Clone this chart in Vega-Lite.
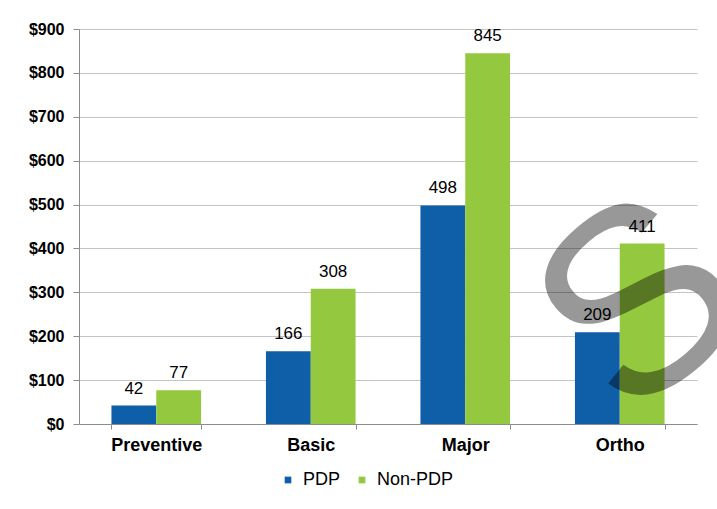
{
  "$schema": "https://vega.github.io/schema/vega-lite/v6.json",
  "width": 618,
  "height": 395,
  "autosize": {"type": "none"},
  "padding": {"left": 79, "top": 29, "right": 20, "bottom": 85},
  "background": "white",
  "config": {
    "view": {"stroke": null},
    "font": "Liberation Sans"
  },
  "datasets": {
    "costs": [
      {"plan": "Preventive", "network": "PDP", "cost": 42},
      {"plan": "Preventive", "network": "Non-PDP", "cost": 77},
      {"plan": "Basic", "network": "PDP", "cost": 166},
      {"plan": "Basic", "network": "Non-PDP", "cost": 308},
      {"plan": "Major", "network": "PDP", "cost": 498},
      {"plan": "Major", "network": "Non-PDP", "cost": 845},
      {"plan": "Ortho", "network": "PDP", "cost": 209},
      {"plan": "Ortho", "network": "Non-PDP", "cost": 411}
    ],
    "stamp": [{"letter": "S"}]
  },
  "layer": [
    {
      "data": {"name": "costs"},
      "mark": {"type": "bar"},
      "encoding": {
        "x": {
          "field": "plan",
          "type": "nominal",
          "sort": ["Preventive", "Basic", "Major", "Ortho"],
          "scale": {"paddingInner": 0.42, "paddingOuter": 0.21},
          "axis": {
            "title": null,
            "labelAngle": 0,
            "labelFontSize": 18,
            "labelFontWeight": "bold",
            "labelColor": "#000000",
            "labelPadding": 7,
            "tickBand": "extent",
            "tickSize": 5,
            "tickColor": "#8c8c8c",
            "domainColor": "#8c8c8c",
            "grid": false
          }
        },
        "xOffset": {
          "field": "network",
          "type": "nominal",
          "sort": ["PDP", "Non-PDP"],
          "scale": {"paddingInner": 0, "paddingOuter": 0}
        },
        "y": {
          "field": "cost",
          "type": "quantitative",
          "scale": {"domain": [0, 900], "nice": false},
          "axis": {
            "title": null,
            "values": [0, 100, 200, 300, 400, 500, 600, 700, 800, 900],
            "format": "$,.0f",
            "labelFontSize": 16,
            "labelFontWeight": "bold",
            "labelColor": "#000000",
            "labelPadding": 9,
            "tickSize": 6,
            "tickColor": "#8c8c8c",
            "domainColor": "#8c8c8c",
            "gridColor": "#c4c4c4"
          }
        },
        "color": {
          "field": "network",
          "type": "nominal",
          "sort": ["PDP", "Non-PDP"],
          "scale": {"domain": ["PDP", "Non-PDP"], "range": ["#0f5ea8", "#94c83f"]},
          "legend": {
            "title": null,
            "orient": "none",
            "direction": "horizontal",
            "legendX": 200,
            "legendY": 442,
            "symbolType": "square",
            "symbolSize": 45,
            "symbolStrokeWidth": 0,
            "labelFontSize": 18,
            "labelColor": "#000000",
            "labelOffset": 6,
            "columnPadding": 12
          }
        }
      }
    },
    {
      "data": {"name": "costs"},
      "mark": {"type": "text", "dy": -17, "fontSize": 17, "color": "#000000"},
      "encoding": {
        "x": {"field": "plan", "type": "nominal", "sort": ["Preventive", "Basic", "Major", "Ortho"]},
        "xOffset": {"field": "network", "type": "nominal", "sort": ["PDP", "Non-PDP"]},
        "y": {"field": "cost", "type": "quantitative"},
        "text": {"field": "cost", "type": "quantitative"}
      }
    },
    {
      "data": {"name": "stamp"},
      "mark": {
        "type": "text",
        "font": "Liberation Sans",
        "fontSize": 262,
        "angle": -40,
        "align": "center",
        "baseline": "middle",
        "color": "#000000",
        "opacity": 0.4
      },
      "encoding": {
        "x": {"datum": "Ortho", "bandPosition": 0.76},
        "y": {"datum": 265},
        "text": {"field": "letter", "type": "nominal"}
      }
    }
  ]
}
